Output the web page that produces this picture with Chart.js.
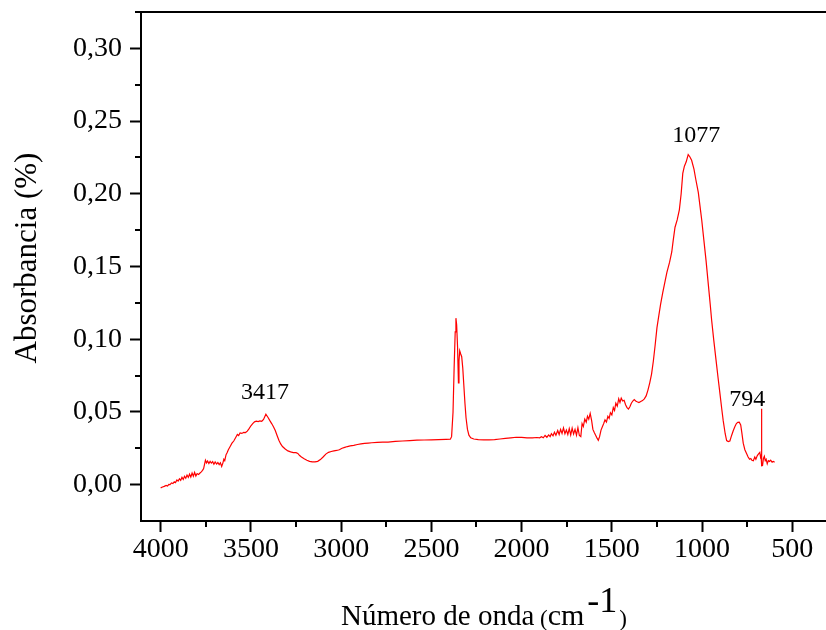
<!DOCTYPE html>
<html>
<head>
<meta charset="utf-8">
<script src="https://cdn.jsdelivr.net/npm/chart.js@4/dist/chart.umd.min.js"></script>
<style>
  html, body { margin: 0; padding: 0; overflow: hidden; background: #fff; width: 826px; height: 630px; }
  canvas { display: block; }
</style>
</head>
<body>
<canvas id="ftir" width="870" height="630"></canvas>
<script>
// FTIR spectrum: wavenumber (cm-1) and absorbance
const wavenumbers = [
  4000, 3990, 3980, 3970, 3962, 3955, 3948, 3940, 3932, 3925, 3918, 3910, 3903, 3896, 3889, 3882,
  3875, 3868, 3861, 3854, 3847, 3840, 3833, 3826, 3819, 3812, 3805, 3798, 3790, 3782, 3775, 3768,
  3762, 3757, 3752, 3746, 3740, 3733, 3726, 3719, 3712, 3705, 3698, 3690, 3683, 3676, 3669, 3662,
  3655, 3650, 3645, 3638, 3632, 3625, 3615, 3605, 3595, 3585, 3575, 3568, 3560, 3550, 3540, 3530,
  3520, 3510, 3500, 3490, 3480, 3470, 3460, 3450, 3440, 3430, 3417, 3405, 3395, 3385, 3375, 3365,
  3355, 3345, 3335, 3325, 3310, 3295, 3280, 3265, 3250, 3240, 3230, 3220, 3205, 3190, 3175, 3160,
  3145, 3130, 3115, 3100, 3085, 3070, 3055, 3040, 3025, 3010, 2995, 2980, 2965, 2950, 2930, 2910,
  2890, 2870, 2850, 2830, 2800, 2770, 2740, 2700, 2660, 2620, 2580, 2540, 2500, 2460, 2420, 2395,
  2388, 2380, 2374, 2368, 2364, 2360, 2355, 2350, 2347, 2343, 2338, 2332, 2326, 2320, 2314, 2308,
  2300, 2292, 2282, 2265, 2240, 2210, 2180, 2150, 2120, 2090, 2060, 2030, 2000, 1970, 1940, 1915,
  1900, 1890, 1880, 1870, 1860, 1850, 1842, 1835, 1826, 1818, 1810, 1800, 1792, 1784, 1776, 1768,
  1760, 1752, 1744, 1736, 1728, 1720, 1712, 1704, 1696, 1688, 1680, 1672, 1665, 1658, 1650, 1642,
  1635, 1628, 1620, 1612, 1605, 1598, 1590, 1582, 1575, 1568, 1560, 1552, 1545, 1538, 1530, 1522,
  1515, 1508, 1500, 1492, 1485, 1478, 1470, 1462, 1455, 1448, 1440, 1432, 1424, 1416, 1408, 1400,
  1392, 1384, 1376, 1368, 1360, 1350, 1340, 1330, 1320, 1310, 1300, 1290, 1280, 1270, 1260, 1250,
  1240, 1230, 1218, 1205, 1195, 1180, 1168, 1160, 1150, 1138, 1126, 1116, 1107, 1098, 1088, 1077,
  1068, 1058, 1045, 1035, 1021, 1010, 1002, 990, 978, 965, 955, 947, 935, 923, 912, 901,
  890, 883, 872, 864, 855, 846, 836, 827, 818, 810, 802, 794, 786, 780, 772, 763,
  753, 745, 737, 730, 724, 716, 708, 702, 694, 687, 680, 676, 673, 671, 670, 669,
  665, 660, 655, 650, 645, 639, 633, 626, 620, 612, 605, 598
];
const absorbance = [
  -0.0022, -0.0016, -0.0012, -0.0005, -0.0010, 0.0002, 0.0000, 0.0012, 0.0008, 0.0020, 0.0014, 0.0032, 0.0024, 0.0040, 0.0030, 0.0050,
  0.0036, 0.0058, 0.0044, 0.0066, 0.0050, 0.0072, 0.0052, 0.0080, 0.0058, 0.0084, 0.0060, 0.0076, 0.0070, 0.0080, 0.0088, 0.0098,
  0.0110, 0.0140, 0.0168, 0.0150, 0.0162, 0.0145, 0.0160, 0.0148, 0.0158, 0.0140, 0.0156, 0.0142, 0.0152, 0.0138, 0.0150, 0.0125,
  0.0150, 0.0175, 0.0165, 0.0205, 0.0220, 0.0240, 0.0262, 0.0285, 0.0300, 0.0322, 0.0345, 0.0338, 0.0355, 0.0352, 0.0360, 0.0358,
  0.0368, 0.0385, 0.0405, 0.0420, 0.0432, 0.0436, 0.0434, 0.0438, 0.0436, 0.0448, 0.0484, 0.0462, 0.0440, 0.0420, 0.0398, 0.0372,
  0.0338, 0.0305, 0.0280, 0.0262, 0.0245, 0.0232, 0.0225, 0.0220, 0.0220, 0.0215, 0.0200, 0.0190, 0.0178, 0.0168, 0.0160, 0.0156,
  0.0156, 0.0160, 0.0172, 0.0190, 0.0210, 0.0222, 0.0228, 0.0232, 0.0235, 0.0240, 0.0250, 0.0256, 0.0262, 0.0266, 0.0270, 0.0276,
  0.0280, 0.0284, 0.0286, 0.0288, 0.0290, 0.0292, 0.0293, 0.0297, 0.0300, 0.0303, 0.0306, 0.0307, 0.0308, 0.0310, 0.0311, 0.0312,
  0.0330, 0.0500, 0.0800, 0.1050, 0.1145, 0.1100, 0.0950, 0.0700, 0.0850, 0.0920, 0.0900, 0.0880, 0.0800, 0.0680, 0.0560, 0.0460,
  0.0380, 0.0340, 0.0322, 0.0314, 0.0310, 0.0308, 0.0308, 0.0310, 0.0314, 0.0318, 0.0322, 0.0326, 0.0325, 0.0322, 0.0322, 0.0324,
  0.0322, 0.0330, 0.0322, 0.0338, 0.0326, 0.0342, 0.0330, 0.0350, 0.0336, 0.0360, 0.0340, 0.0372, 0.0345, 0.0380, 0.0352, 0.0390,
  0.0350, 0.0375, 0.0345, 0.0385, 0.0342, 0.0388, 0.0348, 0.0380, 0.0340, 0.0392, 0.0338, 0.0330, 0.0420, 0.0400, 0.0450, 0.0430,
  0.0470, 0.0450, 0.0490, 0.0440, 0.0380, 0.0360, 0.0340, 0.0320, 0.0305, 0.0330, 0.0375, 0.0400, 0.0420, 0.0445, 0.0430, 0.0470,
  0.0455, 0.0495, 0.0480, 0.0530, 0.0510, 0.0560, 0.0540, 0.0590, 0.0565, 0.0595, 0.0575, 0.0580, 0.0550, 0.0530, 0.0520, 0.0535,
  0.0560, 0.0575, 0.0585, 0.0575, 0.0570, 0.0565, 0.0572, 0.0578, 0.0590, 0.0610, 0.0650, 0.0700, 0.0760, 0.0850, 0.0960, 0.1080,
  0.1160, 0.1240, 0.1320, 0.1400, 0.1460, 0.1530, 0.1600, 0.1680, 0.1770, 0.1820, 0.1890, 0.2000, 0.2140, 0.2190, 0.2220, 0.2270,
  0.2255, 0.2230, 0.2170, 0.2100, 0.2010, 0.1900, 0.1820, 0.1680, 0.1540, 0.1370, 0.1240, 0.1130, 0.0990, 0.0860, 0.0740, 0.0626,
  0.0510, 0.0440, 0.0350, 0.0303, 0.0296, 0.0300, 0.0340, 0.0372, 0.0400, 0.0420, 0.0428, 0.0430, 0.0410, 0.0360, 0.0285, 0.0240,
  0.0212, 0.0190, 0.0175, 0.0180, 0.0168, 0.0165, 0.0190, 0.0175, 0.0200, 0.0212, 0.0222, 0.0190, 0.0200, 0.0220, 0.0522, 0.0130,
  0.0131, 0.0180, 0.0195, 0.0165, 0.0175, 0.0143, 0.0165, 0.0160, 0.0168, 0.0155, 0.0160, 0.0154
];

// Axis ticks
const xTickValues = [4000, 3500, 3000, 2500, 2000, 1500, 1000, 500];
const xMinorTickValues = [3750, 3250, 2750, 2250, 1750, 1250, 750];
const yTickValues = [0, 0.05, 0.10, 0.15, 0.20, 0.25, 0.30];
const yMinorTickValues = [0.025, 0.075, 0.125, 0.175, 0.225, 0.275];

// Band assignments written above the peaks
const peakLabels = ['3417', '1077', '794'];
const peakWavenumbers = [3417, 1077, 794];
const peakAbsorbance = [0.0484, 0.2270, 0.0430];

const SERIF = '"Liberation Serif", "Times New Roman", serif';
const fmtComma = v => v.toFixed(2).replace('.', ',');

// Draws the frame top line, minor ticks, peak labels and axis titles
const decorations = {
  id: 'decorations',
  afterDraw(chart) {
    const ctx = chart.ctx;
    const area = chart.chartArea;
    const xs = chart.scales.x;
    const ys = chart.scales.y;
    ctx.save();
    ctx.strokeStyle = '#000';
    ctx.lineWidth = 2;

    // top frame line
    ctx.beginPath();
    ctx.moveTo(area.left - 6, area.top);
    ctx.lineTo(chart.width, area.top);
    ctx.stroke();

    // minor ticks
    ctx.beginPath();
    xMinorTickValues.forEach(v => {
      const px = Math.round(xs.getPixelForValue(v));
      ctx.moveTo(px, area.bottom);
      ctx.lineTo(px, area.bottom + 6);
    });
    yMinorTickValues.forEach(v => {
      const py = Math.round(ys.getPixelForValue(v));
      ctx.moveTo(area.left, py);
      ctx.lineTo(area.left - 6, py);
    });
    ctx.stroke();

    // peak labels
    const offsets = [[-1, 15], [8, 13], [8, 16]];
    ctx.fillStyle = '#000';
    ctx.font = '24px ' + SERIF;
    ctx.textAlign = 'center';
    ctx.textBaseline = 'alphabetic';
    peakLabels.forEach((t, i) => {
      const px = xs.getPixelForValue(peakWavenumbers[i]) + offsets[i][0];
      const py = ys.getPixelForValue(peakAbsorbance[i]) - offsets[i][1];
      ctx.fillText(t, px, py);
    });

    // y axis title
    ctx.save();
    ctx.translate(35.5, 258);
    ctx.rotate(-Math.PI / 2);
    ctx.font = '31px ' + SERIF;
    ctx.textAlign = 'center';
    ctx.fillText('Absorbancia (%)', 0, 0);
    ctx.restore();

    // x axis title with superscript unit
    ctx.textAlign = 'left';
    let x = 341;
    ctx.font = '29px ' + SERIF;
    ctx.fillText('Número de onda', x, 625);
    x = 540;
    ctx.font = '23px ' + SERIF;
    ctx.fillText('(', x, 626);
    x += ctx.measureText('(').width;
    ctx.font = '30px ' + SERIF;
    ctx.fillText('cm', x, 625);
    x += ctx.measureText('cm').width + 3;
    ctx.font = '36px ' + SERIF;
    ctx.fillText('-1', x, 612);
    x += ctx.measureText('-1').width + 2;
    ctx.font = '23px ' + SERIF;
    ctx.fillText(')', x, 626);

    ctx.restore();
  }
};

new Chart(document.getElementById('ftir'), {
  type: 'line',
  data: {
    datasets: [{
      data: wavenumbers.map((w, i) => ({ x: w, y: absorbance[i] })),
      borderColor: '#ff0000',
      borderWidth: 1.2,
      pointRadius: 0,
      tension: 0,
      fill: false
    }]
  },
  options: {
    responsive: false,
    animation: false,
    devicePixelRatio: 1,
    layout: { padding: { top: 12, left: 0, right: 10, bottom: 0 } },
    plugins: { legend: { display: false }, tooltip: { enabled: false } },
    scales: {
      x: {
        type: 'linear',
        reverse: true,
        min: 125,
        max: 4109,
        afterBuildTicks: s => { s.ticks = xTickValues.map(v => ({ value: v })); },
        afterFit: s => { s.height = 109; s.paddingLeft = 0; s.paddingRight = 0; },
        ticks: {
          color: '#000',
          padding: 1,
          maxRotation: 0,
          autoSkip: false,
          font: { family: SERIF, size: 28 },
          callback: v => String(v)
        },
        grid: { display: true, drawOnChartArea: false, drawTicks: true, tickLength: 11, tickWidth: 2, tickColor: '#000', color: '#000' },
        border: { display: true, color: '#000', width: 2 }
      },
      y: {
        type: 'linear',
        min: -0.025,
        max: 0.325,
        afterBuildTicks: s => { s.ticks = yTickValues.map(v => ({ value: v })); },
        afterFit: s => { s.width = 141; s.paddingTop = 0; s.paddingBottom = 0; },
        ticks: {
          color: '#000',
          padding: 8,
          autoSkip: false,
          font: { family: SERIF, size: 28 },
          callback: v => fmtComma(v)
        },
        grid: { display: true, drawOnChartArea: false, drawTicks: true, tickLength: 11, tickWidth: 2, tickColor: '#000', color: '#000' },
        border: { display: true, color: '#000', width: 2 }
      }
    }
  },
  plugins: [decorations]
});
</script>
</body>
</html>
